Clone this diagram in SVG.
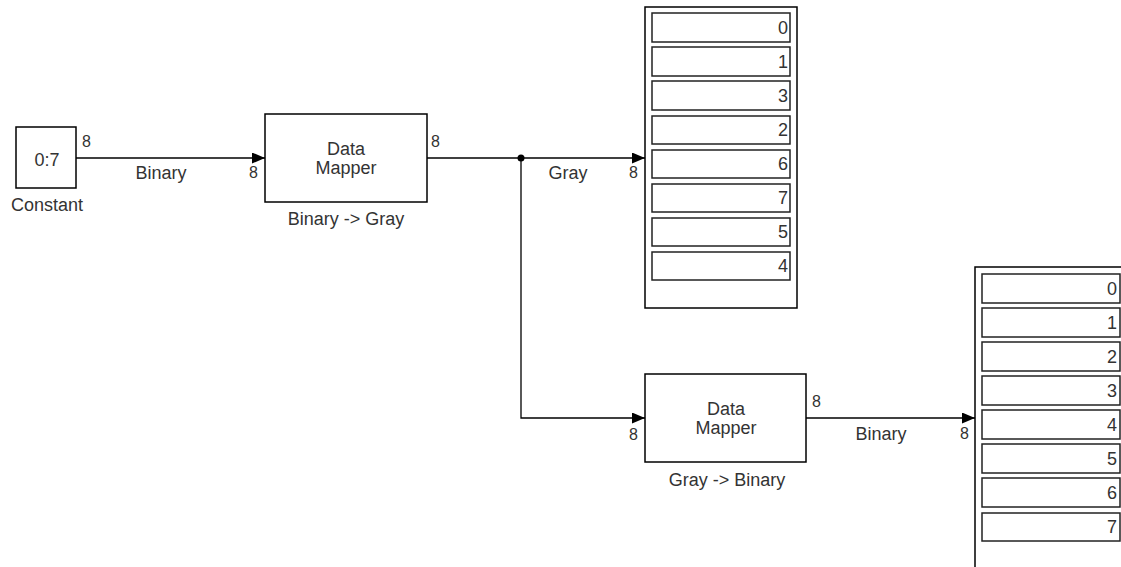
<svg xmlns="http://www.w3.org/2000/svg" width="1121" height="567" viewBox="0 0 1121 567">
<style>
.blk{fill:#fff;stroke:#000;stroke-width:1.5}
.row{fill:#fff;stroke:#222;stroke-width:1.5}
.ln{fill:none;stroke:#000;stroke-width:1.3}
text{font-family:"Liberation Sans",Arial,sans-serif;fill:#333}
.t{font-size:18px;text-anchor:middle}
.p{font-size:16px}
.d{font-size:18px;text-anchor:end}
</style>
<defs>
<marker id="ah" markerWidth="13" markerHeight="11" refX="13" refY="5.5" orient="auto" markerUnits="userSpaceOnUse">
<path d="M0,0 L13,5.5 L0,11 Z" fill="#000"/>
</marker>
</defs>
<rect width="1121" height="567" fill="#fff"/>
<g id="connectors">
<line class="ln" x1="76" y1="158" x2="265" y2="158" marker-end="url(#ah)"/>
<line class="ln" x1="427" y1="158" x2="645" y2="158" marker-end="url(#ah)"/>
<polyline class="ln" points="521,158 521,418 645,418" marker-end="url(#ah)"/>
<line class="ln" x1="806" y1="418" x2="975" y2="418" marker-end="url(#ah)"/>
<circle cx="521" cy="158" r="3.5" fill="#000"/>
<text class="t" x="161" y="179">Binary</text>
<text class="t" x="568" y="179">Gray</text>
<text class="t" x="881" y="440">Binary</text>
<text class="p" x="82" y="147">8</text>
<text class="p" x="249" y="178">8</text>
<text class="p" x="431" y="147">8</text>
<text class="p" x="629" y="178">8</text>
<text class="p" x="629" y="440">8</text>
<text class="p" x="812" y="407">8</text>
<text class="p" x="960" y="439">8</text>
</g>
<g id="constant">
<rect class="blk" x="16" y="127" width="60" height="61"/>
<text class="t" x="47" y="166">0:7</text>
<text class="t" x="47" y="211">Constant</text>
</g>
<g id="mapper1">
<rect class="blk" x="265" y="114" width="162" height="88"/>
<text class="t" x="346" y="155">Data</text>
<text class="t" x="346" y="174">Mapper</text>
<text class="t" x="346" y="225">Binary -&gt; Gray</text>
</g>
<g id="display1">
<rect class="blk" x="645" y="7" width="152" height="301"/>
<rect class="row" x="652" y="13" width="138" height="29"/>
<rect class="row" x="652" y="47" width="138" height="29"/>
<rect class="row" x="652" y="81" width="138" height="29"/>
<rect class="row" x="652" y="116" width="138" height="28"/>
<rect class="row" x="652" y="150" width="138" height="28"/>
<rect class="row" x="652" y="184" width="138" height="28"/>
<rect class="row" x="652" y="218" width="138" height="28"/>
<rect class="row" x="652" y="252" width="138" height="28"/>
<text class="d" x="788" y="34">0</text>
<text class="d" x="788" y="68">1</text>
<text class="d" x="788" y="102">3</text>
<text class="d" x="788" y="136">2</text>
<text class="d" x="788" y="170">6</text>
<text class="d" x="788" y="204">7</text>
<text class="d" x="788" y="238">5</text>
<text class="d" x="788" y="272">4</text>
</g>
<g id="mapper2">
<rect class="blk" x="645" y="374" width="161" height="88"/>
<text class="t" x="726" y="415">Data</text>
<text class="t" x="726" y="434">Mapper</text>
<text class="t" x="727" y="486">Gray -&gt; Binary</text>
</g>
<g id="display2">
<path class="blk" d="M1125,267 L975,267 L975,570"/>
<rect class="row" x="982" y="274" width="138" height="29"/>
<rect class="row" x="982" y="308" width="138" height="29"/>
<rect class="row" x="982" y="342" width="138" height="29"/>
<rect class="row" x="982" y="376" width="138" height="29"/>
<rect class="row" x="982" y="410" width="138" height="29"/>
<rect class="row" x="982" y="444" width="138" height="29"/>
<rect class="row" x="982" y="478" width="138" height="29"/>
<rect class="row" x="982" y="513" width="138" height="28"/>
<text class="d" x="1117" y="295">0</text>
<text class="d" x="1117" y="329">1</text>
<text class="d" x="1117" y="363">2</text>
<text class="d" x="1117" y="397">3</text>
<text class="d" x="1117" y="431">4</text>
<text class="d" x="1117" y="465">5</text>
<text class="d" x="1117" y="499">6</text>
<text class="d" x="1117" y="533">7</text>
</g>
</svg>
